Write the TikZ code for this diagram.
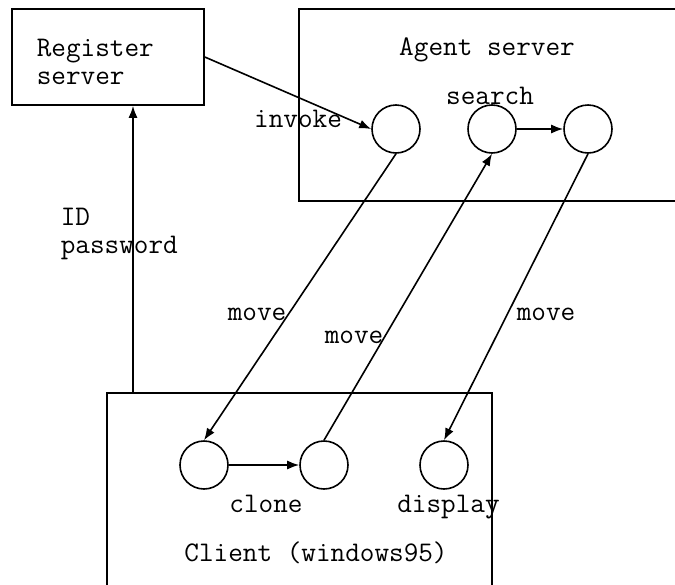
\documentclass[tikz,border=0pt]{standalone}
\usetikzlibrary{arrows.meta}
\begin{document}
\begin{tikzpicture}[x=0.5pt,y=-0.5pt,line width=0.8pt,
	>={Latex[length=6pt,width=4.5pt]},
	font=\ttfamily\fontsize{14.2}{14}\selectfont,
	host/.style={draw,rectangle,inner sep=0pt},
	agent/.style={draw,circle,minimum size=24pt,inner sep=0pt},
	txt/.style={inner sep=0pt,anchor=base}]
	\useasboundingbox (0,0) rectangle (675,584);
	\clip (0,0) rectangle (675,584);
	% machines
	\node[host,minimum width=96pt,minimum height=48pt] (reg) at (108,57) {};
	\node[host,minimum width=210.5pt,minimum height=96pt] (srv) at (509.5,105) {};
	\node[host,minimum width=192.5pt,minimum height=113.5pt] (cli) at (299.5,506.5) {};
	\node[inner sep=0pt,anchor=west,align=left] (regtxt) at (36,62) {Register\\server};
	\node[txt] (srvtxt) at (487,55) {Agent server};
	\node[txt] (clitxt) at (316,561) {Client (windows95)};
	% agents
	\node[agent] (a1) at (396,129) {};
	\node[agent] (a2) at (492,129) {};
	\node[agent] (a3) at (588,129) {};
	\node[agent] (c1) at (204,465) {};
	\node[agent] (c2) at (324,465) {};
	\node[agent] (c3) at (444,465) {};
	\node[txt] (invoke) at (298,127) {invoke};
	\node[txt] (search) at (490,104) {search};
	\node[txt] (clone) at (266,512) {clone};
	\node[txt] (display) at (448.5,512) {display};
	% moves
	\draw[->] (reg.east) -- (a1.west);
	\draw[->] (a2) -- (a3);
	\draw[->] (c1) -- (c2);
	\draw[->] (a1.south) -- (c1.north);
	\draw[->] (c2.north) -- (a2.south);
	\draw[->] (a3.south) -- (c3.north);
	\node[txt] (mv1) at (257,320) {move};
	\node[txt] (mv2) at (354,343) {move};
	\node[txt] (mv3) at (546,320) {move};
	% login
	\coordinate (login) at (133,393);
	\draw[->] (login) -- (login |- reg.south);
	\node[inner sep=0pt,anchor=west,align=left] (idpw) at (60,234) {ID\\password};
\end{tikzpicture}
\end{document}
